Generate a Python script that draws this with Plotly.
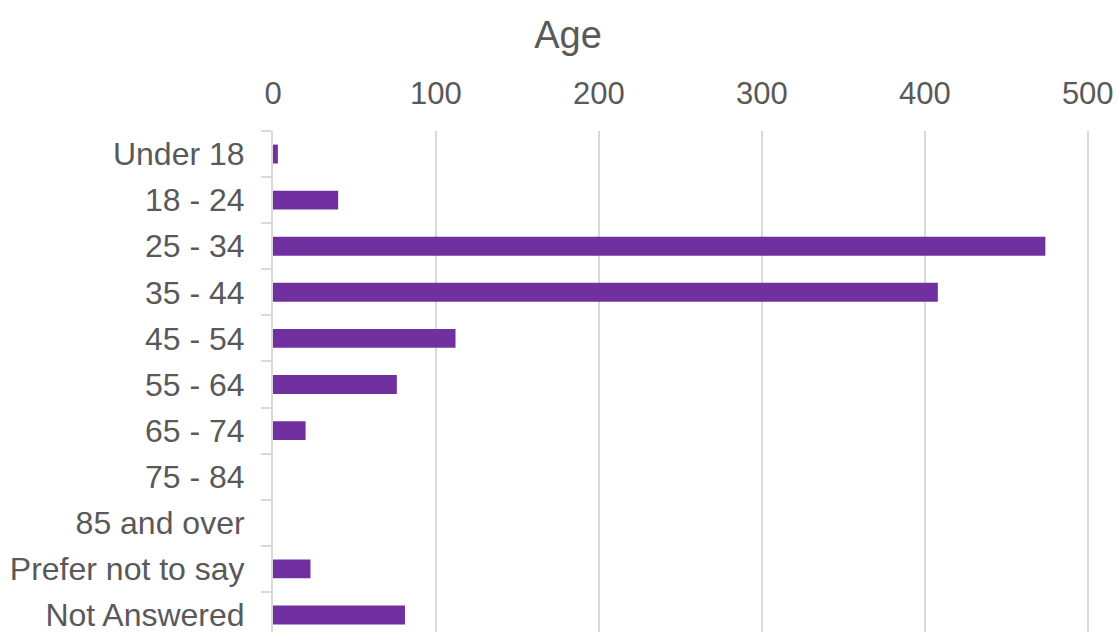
import plotly.graph_objects as go

categories = ["Under 18", "18 - 24", "25 - 34", "35 - 44", "45 - 54", "55 - 64",
              "65 - 74", "75 - 84", "85 and over", "Prefer not to say", "Not Answered"]
counts = [3, 40, 474, 408, 112, 76, 20, 0, 0, 23, 81]
x_ticks = [0, 100, 200, 300, 400, 500]

fig = go.Figure(go.Bar(
    x=counts, y=categories, orientation="h",
    marker=dict(color="#7030a0", line=dict(width=0)),
    width=0.41,
))

font_color = "#595959"
fig.update_layout(
    width=1118, height=632,
    margin=dict(l=273, r=27, t=131, b=0, autoexpand=False),
    paper_bgcolor="white", plot_bgcolor="white",
    showlegend=False,
    title=dict(text="Age", x=568 / 1118, xref="container", xanchor="center",
               y=1 - 35 / 632, yref="container", yanchor="middle",
               font=dict(family="Liberation Sans, Arial", size=38, color=font_color)),
    font=dict(family="Liberation Sans, Arial", size=32, color=font_color),
)
fig.update_xaxes(
    side="top", range=[0, 502], tickvals=x_ticks,
    showgrid=True, gridcolor="#d9d9d9", gridwidth=2,
    zeroline=False, showline=False, ticks="",
    tickfont=dict(size=31, color=font_color),
    ticklabelstandoff=20,
    automargin=False,
    fixedrange=True,
)
fig.update_yaxes(
    type="category", categoryorder="array", categoryarray=categories,
    range=[10.37, -0.5],
    showline=True, linecolor="#d9d9d9", linewidth=2,
    ticks="outside", tickson="boundaries", ticklen=10, tickcolor="#d9d9d9", tickwidth=2,
    showgrid=False,
    tickfont=dict(size=32, color=font_color),
    ticklabelstandoff=20,
    automargin=False,
    fixedrange=True,
)

fig.write_html(
    "out.html",
    config={"displayModeBar": False},
    post_script="document.body.style.margin='0';document.body.style.overflow='hidden';",
)
